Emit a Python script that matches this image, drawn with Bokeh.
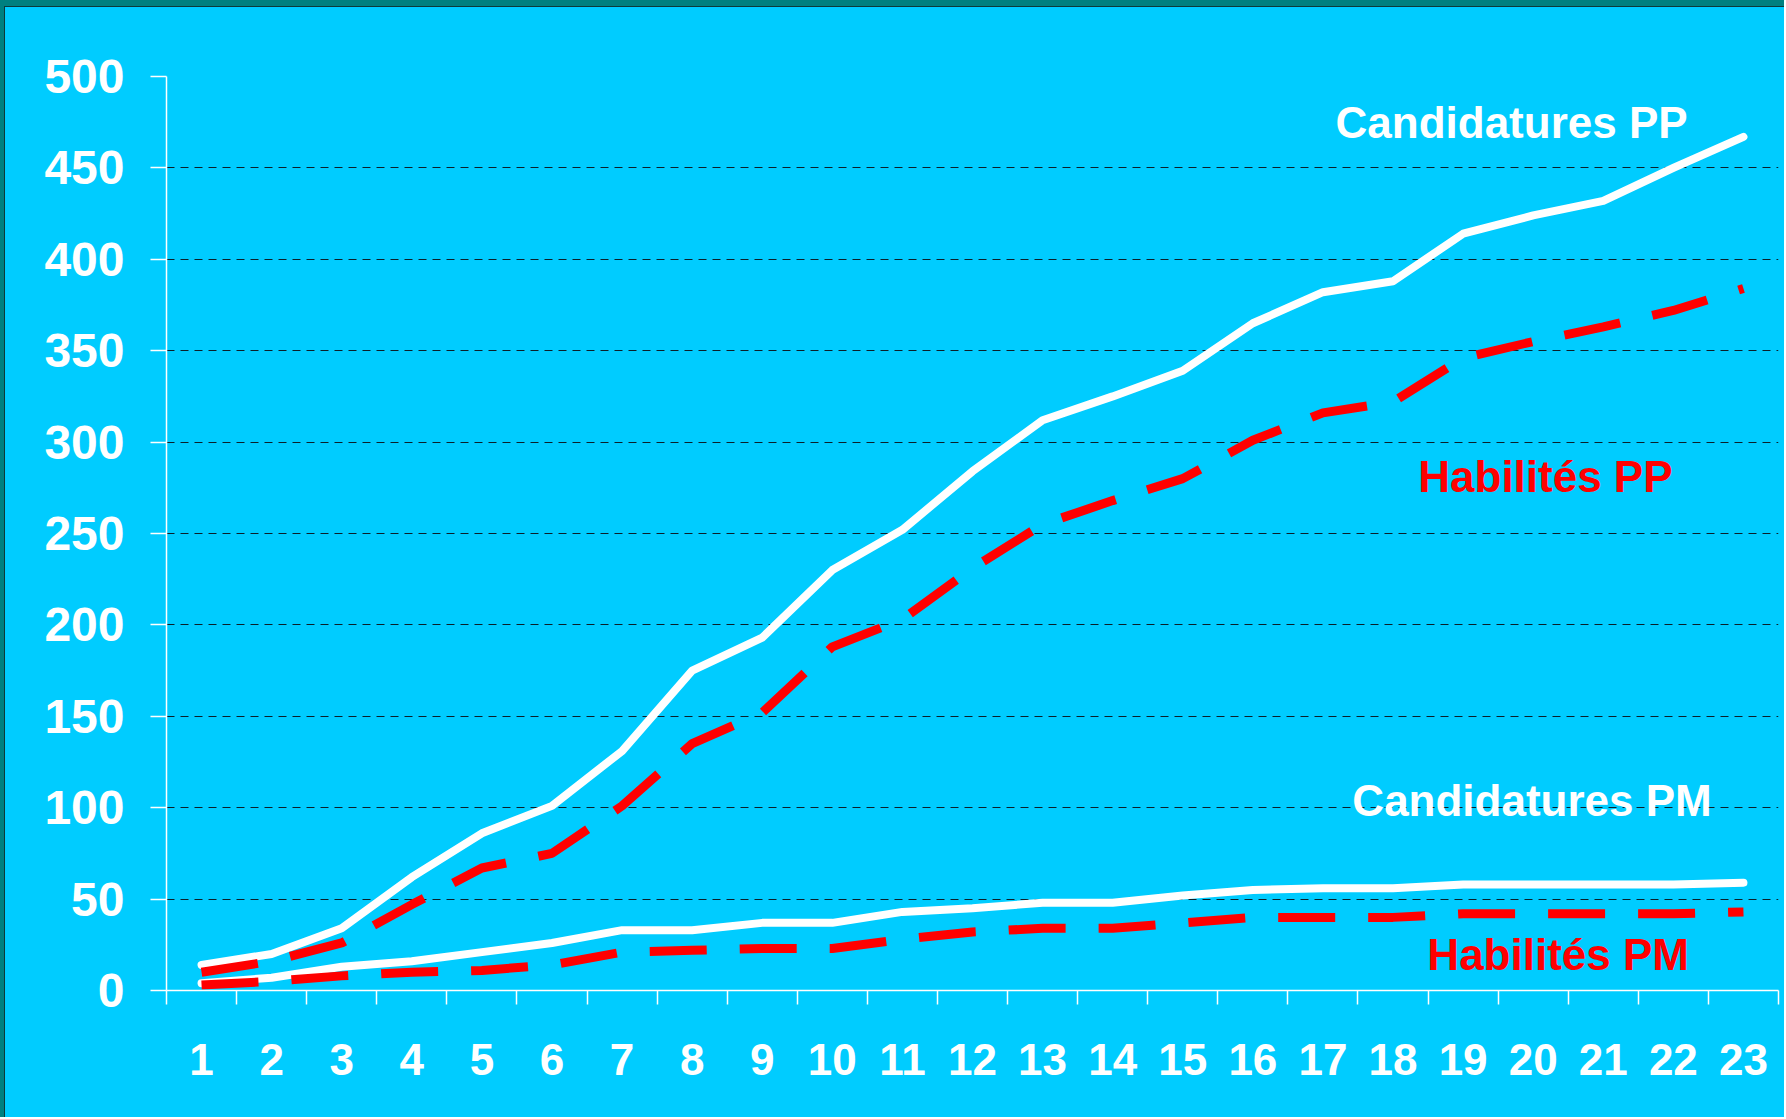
from bokeh.plotting import figure
from bokeh.models import Range1d, FixedTicker, Label
from bokeh.embed import file_html
from bokeh.resources import INLINE

weeks = list(range(1, 24))
week_labels = [str(w) for w in weeks]
cand_pp = [14, 20, 34, 62, 86, 101, 131, 175, 193, 230, 252, 284, 312, 325, 339, 365, 382, 388, 414, 424, 432, 450, 467]
hab_pp = [10, 16, 26, 47, 67, 75, 101, 135, 152, 188, 203, 231, 255, 268, 280, 301, 316, 322, 346, 355, 363, 372, 384]
cand_pm = [4, 7, 13, 16, 21, 26, 33, 33, 37, 37, 43, 45, 48, 48, 52, 55, 56, 56, 58, 58, 58, 58, 59]
hab_pm = [3, 5, 8, 10, 11, 14, 21, 22, 23, 23, 28, 32, 34, 34, 37, 40, 40, 40, 42, 42, 42, 42, 43]
y_ticks = [0, 50, 100, 150, 200, 250, 300, 350, 400, 450, 500]

FONT = "Liberation Sans"
CYAN = "#00CCFF"

p = figure(width=1784, height=1117, output_backend="svg", toolbar_location=None,
           x_range=Range1d(0.5, 23.5), y_range=Range1d(0, 500),
           min_border_left=166, min_border_right=6, min_border_top=76, min_border_bottom=127)
p.background_fill_color = CYAN
p.border_fill_color = CYAN
p.border_fill_alpha = 0
p.outline_line_color = None
p.styles = {"background-color": CYAN,
            "box-shadow": "inset 4px 6px 0 0 #008080, inset 5px 7px 0 0 #0d3a3a"}

# x axis
xt = FixedTicker(ticks=weeks, minor_ticks=[w - 0.5 for w in weeks] + [23.5])
p.xaxis.ticker = xt
p.xaxis.major_label_overrides = {w: l for w, l in zip(weeks, week_labels)}
p.xaxis.major_tick_out = 0
p.xaxis.major_tick_in = 0
p.xaxis.minor_tick_out = 14
p.xaxis.minor_tick_in = 0
p.xaxis.minor_tick_line_color = "white"
p.xaxis.minor_tick_line_width = 1.5
p.xaxis.axis_line_color = "white"
p.xaxis.axis_line_width = 1.5
p.xaxis.major_label_text_color = "white"
p.xaxis.major_label_text_font = FONT
p.xaxis.major_label_text_font_style = "bold"
p.xaxis.major_label_text_font_size = "44px"
p.xaxis.major_label_standoff = 39

# y axis
yt = FixedTicker(ticks=y_ticks)
p.yaxis.ticker = yt
p.ygrid.ticker = yt
p.yaxis.major_tick_out = 16
p.yaxis.major_tick_in = 0
p.yaxis.minor_tick_out = 0
p.yaxis.minor_tick_in = 0
p.yaxis.major_tick_line_color = "white"
p.yaxis.major_tick_line_width = 1.5
p.yaxis.axis_line_color = "white"
p.yaxis.axis_line_width = 1.5
p.yaxis.major_label_text_color = "white"
p.yaxis.major_label_text_font = FONT
p.yaxis.major_label_text_font_style = "bold"
p.yaxis.major_label_text_font_size = "48px"
p.yaxis.major_label_standoff = 26

p.xgrid.visible = False
p.ygrid.grid_line_color = "#0b1f2a"
p.ygrid.grid_line_width = 1.2
p.ygrid.grid_line_dash = "8 6"

# series
p.line(weeks, cand_pp, line_color="white", line_width=8, line_cap="round", line_join="round")
p.line(weeks, hab_pp, line_color="#FF0000", line_width=9, line_dash="57 33")
p.line(weeks, cand_pm, line_color="white", line_width=8, line_cap="round", line_join="round")
p.line(weeks, hab_pm, line_color="#FF0000", line_width=9, line_dash="57 33")

def add_label(text, x, y, color):
    p.add_layout(Label(x=x, y=y, text=text, text_color=color, text_font=FONT,
                       text_font_style="bold", text_font_size="44px",
                       text_baseline="middle", text_align="left"))

add_label("Candidatures PP", 17.18, 475, "white")
add_label("Habilités  PP", 18.36, 281, "#FF0000")
add_label("Candidatures PM", 17.42, 104, "white")
add_label("Habilités PM", 18.49, 19.5, "#FF0000")

open("out.html", "w").write(file_html(p, INLINE))
